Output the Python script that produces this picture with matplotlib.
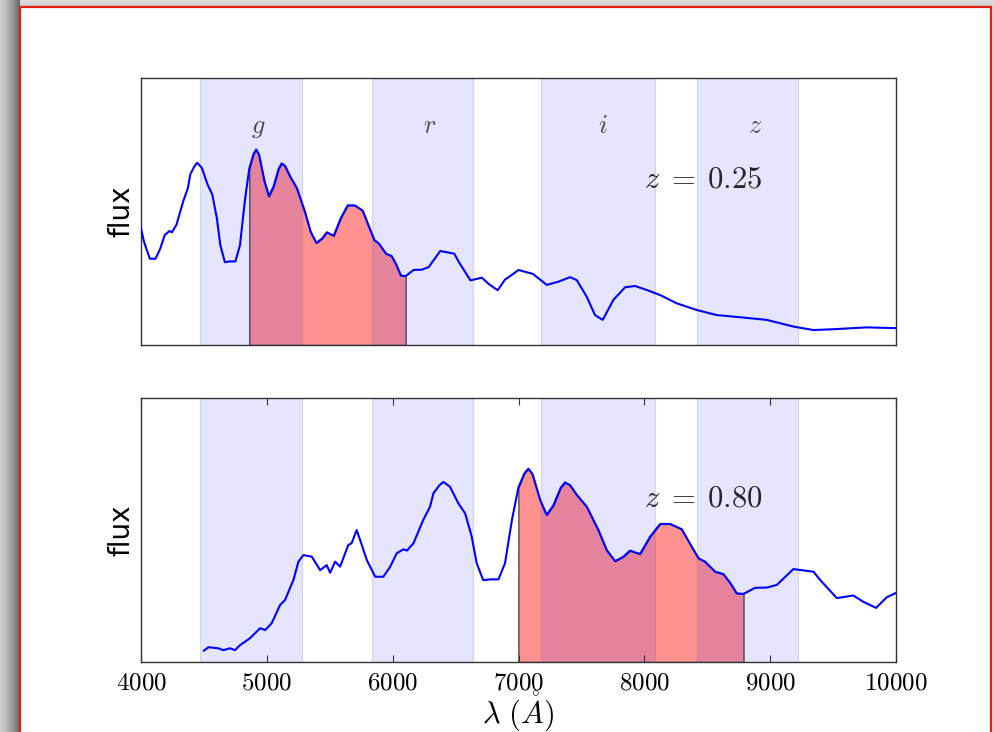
import numpy as np
import matplotlib.pyplot as plt
from matplotlib.patches import Rectangle

# rest-frame spectrum (normalised flux)
rest_wave = [2500, 2519, 2563, 2586, 2615, 2637, 2659, 2703, 2748, 2770, 2799, 2836,
             2858, 2895, 2917, 2939, 2976, 3013, 3042, 3057, 3079, 3101, 3137, 3152,
             3174, 3197, 3219, 3256, 3292, 3322, 3351, 3381, 3396, 3425, 3468, 3498,
             3513, 3540, 3557, 3586, 3623, 3653, 3682, 3704, 3733, 3763, 3800, 3829, 3860,
             3888, 3915, 3932, 3950, 3984, 4013, 4043, 4075, 4094, 4116, 4146, 4190, 4241,
             4278, 4315, 4352, 4381, 4425, 4470, 4514, 4558, 4609, 4653, 4683, 4712, 4757,
             4793, 4823, 4852, 4882, 4933, 4985, 5029, 5102, 5191, 5220, 5294, 5367, 5411,
             5467, 5514, 5556, 5599, 5692, 5779, 5853, 5927, 5970, 6033, 6086, 6135,
             6203, 6277, 6340, 6415, 6500, 6606, 6733, 6860, 7008, 7178, 7347, 7474,
             7602, 7814, 8000]
flux = [0.043, 0.056, 0.052, 0.045, 0.052, 0.045, 0.064, 0.090, 0.128, 0.121, 0.147, 0.216,
        0.235, 0.311, 0.380, 0.405, 0.399, 0.348, 0.367, 0.338, 0.380, 0.361, 0.443, 0.450,
        0.500, 0.443, 0.386, 0.323, 0.323, 0.361, 0.412, 0.427, 0.422, 0.450, 0.538, 0.588,
        0.639, 0.670, 0.682, 0.664, 0.601, 0.563, 0.475, 0.374, 0.310, 0.313, 0.313, 0.374, 0.540,
        0.660, 0.715, 0.732, 0.712, 0.614, 0.557, 0.594, 0.660, 0.680, 0.670, 0.633, 0.588, 0.500,
        0.424, 0.382, 0.399, 0.422, 0.409, 0.475, 0.523, 0.523, 0.503, 0.437, 0.393, 0.380, 0.342,
        0.333, 0.300, 0.260, 0.258, 0.281, 0.282, 0.292, 0.352, 0.342, 0.311, 0.242, 0.252, 0.228,
        0.205, 0.245, 0.262, 0.281, 0.266, 0.225, 0.237, 0.254, 0.243, 0.181, 0.112, 0.094,
        0.169, 0.216, 0.221, 0.206, 0.187, 0.156, 0.131, 0.112, 0.104, 0.094, 0.069, 0.056,
        0.059, 0.066, 0.063]

redshifts = [0.25, 0.80]

# filter bands (observed frame, Angstrom)
band_names = ["g", "r", "i", "z"]
band_lo = [4470, 5835, 7180, 8420]
band_hi = [5280, 6640, 8085, 9220]

# rest-frame window that gets shaded
window_lo, window_hi = 3885, 4885

xticks = [4000, 5000, 6000, 7000, 8000, 9000, 10000]

plt.rcParams["mathtext.fontset"] = "cm"

W, H = 994, 732
fig = plt.figure(figsize=(W / 100, H / 100), dpi=100)

# page background with drop shadow and red frame
bg = fig.add_axes([0, 0, 1, 1], zorder=-10)
img = np.ones((H, W, 3))
xs = np.arange(W)
ys = np.arange(H)
shade = np.ones((H, W))
left = xs < 20
shade[:, left] = 0.80 - 0.40 * (xs[left] / 19.0) ** 1.5
top = ys < 7
shade[top, :] = np.minimum(shade[top, :], (0.87 - 0.08 * ys[top] / 6.0)[:, None])
shade[:, xs > 991] = 0.86
img *= shade[:, :, None]
bg.imshow(img, extent=[0, W, H, 0], aspect="auto", interpolation="bilinear")
bg.add_patch(Rectangle((20, 7), 971, 760, facecolor="none", edgecolor="#e2200f", lw=1.6))
bg.set_xlim(0, W)
bg.set_ylim(H, 0)
bg.axis("off")

rest = np.array(rest_wave)
fl = np.array(flux)
in_window = (rest >= window_lo) & (rest <= window_hi)

positions = [[0.1419, 0.5287, 0.7596, 0.3648],
             [0.1419, 0.0956, 0.7596, 0.3607]]

for k, (z, pos) in enumerate(zip(redshifts, positions)):
    ax = fig.add_axes(pos)
    obs = rest * (1 + z)
    ax.plot(obs, fl, color="b", lw=1.5, zorder=3, solid_joinstyle="round")
    ax.fill_between(obs[in_window], 0, fl[in_window], facecolor=(1, 0, 0, 0.43),
                    edgecolor="0.3", lw=1.0, zorder=1)
    for lo, hi in zip(band_lo, band_hi):
        ax.axvspan(lo, hi, facecolor=(0, 0, 1, 0.1), edgecolor=(0.4, 0.4, 0.55, 0.2),
                   lw=1.0, zorder=2)
    ax.set_xlim(4000, 10000)
    ax.set_ylim(0, 1)
    ax.set_yticks([])
    ax.set_ylabel("flux", fontsize=20, labelpad=4)
    ax.text(8000, 0.59, r"$z\;=\;%.2f$" % z, fontsize=22, color="0.15")
    for sp in ax.spines.values():
        sp.set_color("0.2")
        sp.set_linewidth(1.0)
    if k == 0:
        ax.set_xticks([])
        for name, lo, hi in zip(band_names, band_lo, band_hi):
            ax.text((lo + hi) / 2, 0.795, "$%s$" % name, ha="left", fontsize=19, color="0.3")
    else:
        ax.set_xticks(xticks)
        ax.set_xticklabels(["$%d$" % t for t in xticks])
        ax.tick_params(axis="x", direction="in", top=True, length=5, labelsize=18, pad=6,
                       color="0.2")
        ax.set_xlabel(r"$\lambda\ (\mathring{A})$", fontsize=22, labelpad=-4)

fig.savefig("out.png", dpi=100)
